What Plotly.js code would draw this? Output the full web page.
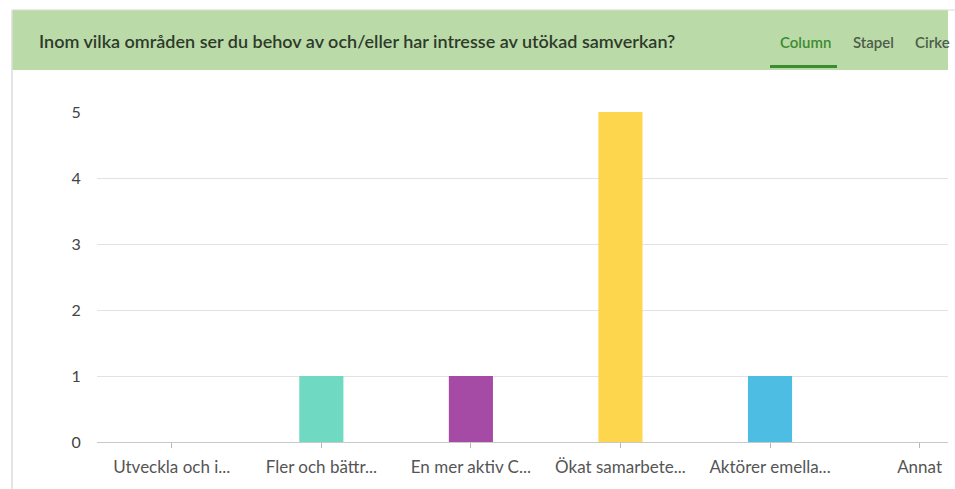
<!DOCTYPE html>
<html>
<head>
<meta charset="utf-8">
<script src="https://cdn.plot.ly/plotly-3.0.1.min.js"></script>
<style>
  html, body { margin: 0; padding: 0; background: #fff; }
  #chart { width: 955px; height: 489px; }
</style>
</head>
<body>
<div id="chart"></div>
<script>
// Survey answers: number of respondents per area of interest
const categories = [
  "Utveckla och i...",
  "Fler och bättr...",
  "En mer aktiv C...",
  "Ökat samarbete...",
  "Aktörer emella...",
  "Annat"
];
const counts = [0, 1, 1, 5, 1, 0];
const barColors = ["#8fd3f5", "#6fd9c1", "#a54ba5", "#fed64e", "#4dbde3", "#cccccc"];
const yTicks = [0, 1, 2, 3, 4, 5];
const questionTitle = "Inom vilka områden ser du behov av och/eller har intresse av utökad samverkan?";
const tabLabels = ["Column", "Stapel", "Cirke"];

const W = 955, H = 489;
const M = { l: 97, r: 7, t: 112, b: 47 };
const plotW = W - M.l - M.r, plotH = H - M.t - M.b;
// pixel -> paper coordinate helpers for the header decoration
const px = x => (x - M.l) / plotW;
const py = y => (H - M.b - y) / plotH;

const trace = {
  type: "bar",
  x: categories,
  y: counts,
  marker: { color: barColors },
  width: 0.295,
  hoverinfo: "x+y"
};

const shapes = [
  // green header band
  { type: "rect", xref: "paper", yref: "paper", x0: px(12), x1: px(948), y0: py(70), y1: py(10),
    fillcolor: "#badaa8", line: { width: 0 }, layer: "below" },
  // top border of card
  { type: "line", xref: "paper", yref: "paper", x0: px(12), x1: px(955), y0: py(10), y1: py(10),
    line: { color: "#d4dccf", width: 1 } },
  // left border of card
  { type: "line", xref: "paper", yref: "paper", x0: px(12), x1: px(12), y0: py(10), y1: py(489),
    line: { color: "#dddddd", width: 1.5 } },
  // active tab underline
  { type: "rect", xref: "paper", yref: "paper", x0: px(770), x1: px(837), y0: py(68), y1: py(65),
    fillcolor: "#3d8b31", line: { width: 0 } }
];

const tabX = [778, 851, 913];
const annotations = [
  { text: questionTitle, xref: "paper", yref: "paper", x: px(37), y: py(41),
    xanchor: "left", yanchor: "middle", showarrow: false,
    font: { family: "Lato, 'Open Sans', sans-serif", size: 18, color: "#2e3a2a", weight: 600 } }
].concat(tabLabels.map((t, i) => ({
  text: t, xref: "paper", yref: "paper", x: px(tabX[i]), y: py(42),
  xanchor: "left", yanchor: "middle", showarrow: false,
  font: { family: "Lato, 'Open Sans', sans-serif", size: 15,
          color: i === 0 ? "#3d8b31" : "#4e5c49", weight: 600 }
})));

const layout = {
  width: W, height: H,
  margin: M,
  paper_bgcolor: "#ffffff",
  plot_bgcolor: "#ffffff",
  showlegend: false,
  bargap: 0.7,
  font: { family: "Lato, 'Open Sans', sans-serif", color: "#555" },
  xaxis: {
    type: "category",
    range: [-0.5, 5.19],
    showgrid: false,
    showline: true, linecolor: "#c8c8c8", linewidth: 1,
    ticks: "outside", ticklen: 5, tickcolor: "#b8b8b8",
    tickfont: { size: 17, color: "#555" },
    ticklabelstandoff: 5,
    fixedrange: true
  },
  yaxis: {
    range: [0, 5],
    tickvals: yTicks,
    showgrid: true, gridcolor: "#e2e2e2", gridwidth: 1,
    zeroline: false,
    showline: false,
    ticks: "outside", ticklen: 12, tickcolor: "rgba(0,0,0,0)",
    tickfont: { size: 16, color: "#444" },
    fixedrange: true
  },
  shapes: shapes,
  annotations: annotations
};

Plotly.newPlot("chart", [trace], layout, { displayModeBar: false, staticPlot: true });
</script>
</body>
</html>
